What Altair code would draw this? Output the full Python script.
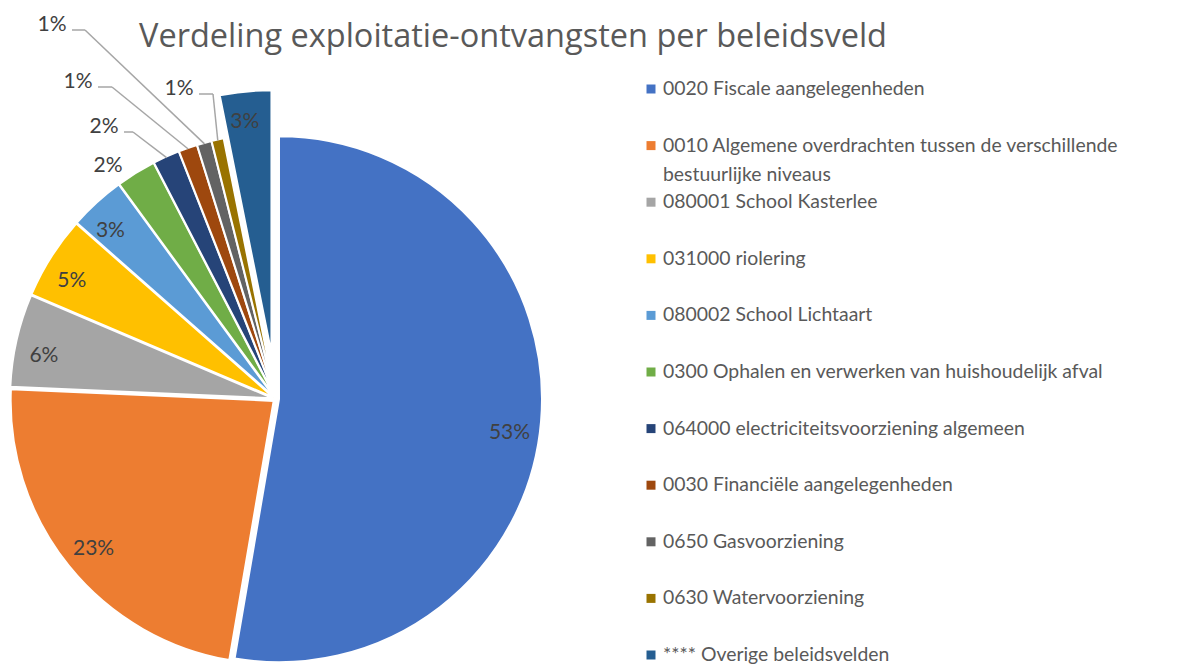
import altair as alt
import pandas as pd

# ---------------- data ----------------
categories = [
    "0020 Fiscale aangelegenheden",
    "0010 Algemene overdrachten tussen de verschillende bestuurlijke niveaus",
    "080001 School Kasterlee",
    "031000 riolering",
    "080002 School Lichtaart",
    "0300 Ophalen en verwerken van huishoudelijk afval",
    "064000 electriciteitsvoorziening algemeen",
    "0030 Financiële aangelegenheden",
    "0650 Gasvoorziening",
    "0630 Watervoorziening",
    "**** Overige beleidsvelden",
]
shares = [52.7, 23.0, 5.7, 5.1, 3.45, 2.45, 1.65, 1.15, 0.9, 0.75, 3.15]
colors = ["#4472C4", "#ED7D31", "#A5A5A5", "#FFC000", "#5B9BD5", "#70AD47",
          "#264478", "#9E480E", "#636363", "#997300", "#255E91"]
legend_text = [
    "0020 Fiscale aangelegenheden",
    "0010 Algemene overdrachten tussen de verschillende\nbestuurlijke niveaus",
    "080001 School Kasterlee",
    "031000 riolering",
    "080002 School Lichtaart",
    "0300 Ophalen en verwerken van huishoudelijk afval",
    "064000 electriciteitsvoorziening algemeen",
    "0030 Financiële aangelegenheden",
    "0650 Gasvoorziening",
    "0630 Watervoorziening",
    "**** Overige beleidsvelden",
]
title_text = "Verdeling exploitatie-ontvangsten per beleidsveld"

# ---------------- layout (styles / positions, not data) ----------------
W, H = 1181, 656
CX, CY = 268, 391          # pie centre (view px)
R = 263                    # outer radius
LABEL_R = 233              # radius of inside labels
EXPLODED = "**** Overige beleidsvelden"
FONT = "Lato"
PCT_SIZE = 21

# inside label angle nudges (degrees)
inside_nudge_cat = categories[:5] + [EXPLODED]
inside_nudge_deg = [3.5, -0.5, -2.4, -2.2, -2.2, -0.9]

# outside (callout) labels: offset of label centre from pie centre, elbow length
callout_cat = categories[5:10]
callout_dx = [-168, -172, -198, -224, -97]
callout_dy = [-233, -272, -317, -374, -310]
callout_elbow = [0, 9, 14, 13, 14]

df = pd.DataFrame({
    "beleidsveld": categories,
    "aandeel": shares,
    "volgorde": list(range(len(categories))),
    "legende": legend_text,
})
nudge_df = pd.DataFrame({"beleidsveld": inside_nudge_cat, "nudge": inside_nudge_deg})
callout_df = pd.DataFrame({"beleidsveld": callout_cat, "ldx": callout_dx,
                           "ldy": callout_dy, "elbow": callout_elbow})

color_scale = alt.Scale(domain=categories, range=colors)

base = (
    alt.Chart(df)
    .transform_window(cum="sum(aandeel)", sort=[alt.SortField("volgorde")], frame=[None, 0])
    .transform_joinaggregate(total="sum(aandeel)")
    .transform_calculate(
        t0="(datum.cum - datum.aandeel) / datum.total * 2 * PI",
        t1="datum.cum / datum.total * 2 * PI",
    )
    .transform_calculate(
        mid="(datum.t0 + datum.t1) / 2",
        explode=f"datum.beleidsveld == '{EXPLODED}' ? 46 : 3",
        frac="datum.aandeel / datum.total",
    )
    .transform_calculate(
        cx=f"{CX} + datum.explode * sin(datum.mid)",
        cy=f"{CY} - datum.explode * cos(datum.mid)",
    )
)

arcs = base.mark_arc(outerRadius=R, stroke="white", strokeWidth=2).encode(
    theta=alt.Theta("t0:Q", scale=None, stack=None),
    theta2="t1:Q",
    x=alt.X("cx:Q", scale=None),
    y=alt.Y("cy:Q", scale=None),
    color=alt.Color("beleidsveld:N", scale=color_scale, legend=None),
)

inside = (
    base.transform_filter("datum.frac >= 0.03")
    .transform_lookup(lookup="beleidsveld",
                      from_=alt.LookupData(nudge_df, "beleidsveld", ["nudge"]))
    .transform_calculate(
        la="datum.mid + (isValid(datum.nudge) ? datum.nudge : 0) * PI / 180")
    .transform_calculate(
        lx=f"datum.cx + {LABEL_R} * sin(datum.la)",
        ly=f"datum.cy - {LABEL_R} * cos(datum.la)",
    )
    .mark_text(font=FONT, fontSize=PCT_SIZE, color="#404040", align="center", baseline="middle")
    .encode(
        x=alt.X("lx:Q", scale=None),
        y=alt.Y("ly:Q", scale=None),
        text=alt.Text("frac:Q", format=".0%"),
    )
)

callouts = (
    base.transform_lookup(lookup="beleidsveld",
                          from_=alt.LookupData(callout_df, "beleidsveld", ["ldx", "ldy", "elbow"]))
    .transform_filter("isValid(datum.ldx)")
    .transform_calculate(
        lx=f"{CX} + datum.ldx",
        ly=f"{CY} + datum.ldy",
    )
    .transform_calculate(
        sx="datum.lx + 20",
        sy="datum.ly + 5",
        ex=f"datum.cx + {R - 1} * sin(datum.mid)",
        ey=f"datum.cy - {R - 1} * cos(datum.mid)",
    )
    .transform_calculate(bx="datum.sx + datum.elbow")
)

callout_text = callouts.mark_text(
    font=FONT, fontSize=PCT_SIZE, color="#404040", align="center", baseline="middle"
).encode(
    x=alt.X("lx:Q", scale=None),
    y=alt.Y("ly:Q", scale=None),
    text=alt.Text("frac:Q", format=".0%"),
)

leader_h = callouts.transform_filter("datum.elbow > 0").mark_rule(
    color="#A6A6A6", strokeWidth=1.5
).encode(
    x=alt.X("sx:Q", scale=None), x2="bx:Q",
    y=alt.Y("sy:Q", scale=None), y2="sy:Q",
)
leader_d = callouts.transform_filter("datum.elbow > 0").mark_rule(
    color="#A6A6A6", strokeWidth=1.5
).encode(
    x=alt.X("bx:Q", scale=None), x2="ex:Q",
    y=alt.Y("sy:Q", scale=None), y2="ey:Q",
)

legend_y = alt.Y("beleidsveld:N", sort=categories,
                 scale=alt.Scale(domain=categories, range=[81, 647], padding=0),
                 axis=None)

legend_sym = alt.Chart(df).mark_point(shape="square", filled=True, size=81, opacity=1).encode(
    x=alt.value(643),
    y=legend_y,
    color=alt.Color("beleidsveld:N", scale=color_scale, legend=None),
)
legend_lbl = alt.Chart(df).mark_text(
    font=FONT, fontSize=19.4, color="#595959", align="left", baseline="alphabetic",
    dy=6, lineBreak="\n", lineHeight=29,
).encode(
    x=alt.value(655),
    y=legend_y,
    text="legende:N",
)

title = alt.Chart(pd.DataFrame({"t": [title_text]})).mark_text(
    font="Open Sans", fontSize=32.5, color="#595959", align="center", baseline="middle"
).encode(x=alt.value(505), y=alt.value(29), text="t:N")

chart = (
    alt.layer(arcs, leader_h, leader_d, inside, callout_text, legend_sym, legend_lbl, title)
    .resolve_scale(y="independent", x="independent", color="shared")
    .properties(width=W, height=H, autosize=alt.AutoSizeParams(type="none"), padding=0)
    .configure_view(stroke=None)
)

chart.save("out.html", embed_options={"renderer": "svg", "actions": False})
